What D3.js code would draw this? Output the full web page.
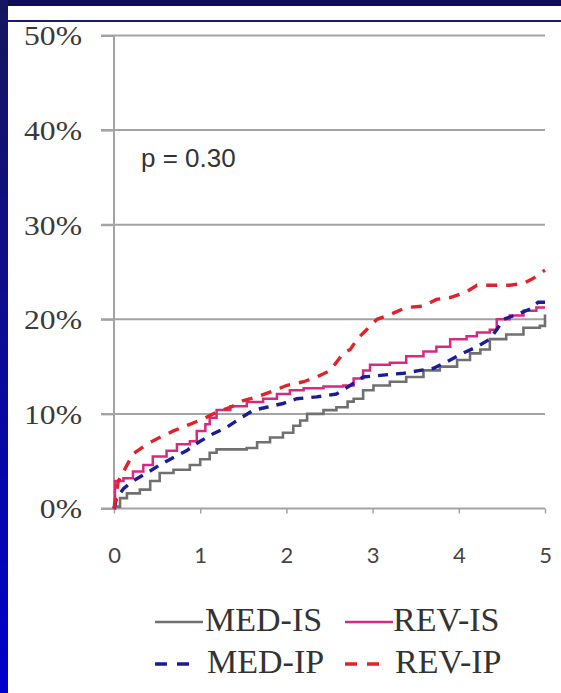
<!DOCTYPE html>
<html>
<head>
<meta charset="utf-8">
<script src="https://cdn.jsdelivr.net/npm/d3@7"></script>
<style>
  html, body { margin: 0; padding: 0; background: #ffffff; }
  svg { display: block; }
</style>
</head>
<body>
<svg id="chart" width="561" height="693"></svg>
<script>
// ---- data (time in years, cumulative incidence in %) ----
const xTicks = [0, 1, 2, 3, 4, 5];
const yTicks = [0, 10, 20, 30, 40, 50];
const pText = "p = 0.30";
const seriesNames = ["MED-IS", "REV-IS", "MED-IP", "REV-IP"];

const medIS = [[0,0],[0.01,0.2],[0.07,1.1],[0.15,1.6],[0.3,2.0],[0.42,2.9],[0.53,3.75],[0.69,4.1],[0.77,4.1],[0.88,4.6],[1.0,5.2],[1.11,5.9],[1.19,6.25],[1.35,6.25],[1.54,6.4],[1.66,7.0],[1.81,7.5],[1.96,8.0],[2.08,8.75],[2.16,9.3],[2.24,10.0],[2.43,10.4],[2.58,10.7],[2.71,11.3],[2.78,11.6],[2.89,12.5],[3.01,13.0],[3.2,13.4],[3.39,13.9],[3.59,14.6],[3.78,15.0],[3.98,15.7],[4.13,16.4],[4.25,16.8],[4.36,17.9],[4.55,18.4],[4.75,19.1],[4.94,19.3],[5.0,20.5]];

const revIS = [[0,0],[0.012,2.9],[0.11,3.2],[0.22,3.9],[0.34,4.6],[0.45,5.5],[0.61,6.1],[0.73,6.8],[0.88,7.1],[0.96,8.2],[1.06,8.9],[1.11,9.6],[1.19,10.4],[1.35,10.8],[1.54,11.25],[1.73,11.6],[1.89,12.1],[2.04,12.5],[2.2,12.7],[2.43,12.9],[2.66,13.0],[2.78,13.75],[2.89,14.6],[2.97,15.2],[3.2,15.4],[3.39,16.1],[3.59,16.6],[3.74,17.1],[3.9,17.9],[4.09,18.2],[4.21,18.6],[4.36,18.9],[4.44,20.0],[4.59,20.4],[4.75,20.9],[4.9,21.25],[5.0,21.25]];

const medIP = [[0,0],[0.03,1.1],[0.11,2.1],[0.22,2.9],[0.38,3.75],[0.53,4.6],[0.69,5.4],[0.84,6.1],[0.98,7.0],[1.15,7.9],[1.31,8.6],[1.46,9.5],[1.62,10.4],[1.77,10.7],[1.96,11.1],[2.12,11.6],[2.35,11.8],[2.58,12.1],[2.74,13.0],[2.89,13.9],[3.12,14.1],[3.36,14.3],[3.55,14.6],[3.7,14.8],[3.86,15.5],[4.01,16.25],[4.21,17.1],[4.36,17.9],[4.44,18.9],[4.52,20.0],[4.67,20.5],[4.83,21.1],[4.92,21.8],[5.0,21.8]];

const revIP = [[0,0],[0.05,2.9],[0.11,3.9],[0.22,5.75],[0.38,6.8],[0.53,7.5],[0.69,8.2],[0.88,8.9],[1.04,9.5],[1.19,10.2],[1.35,10.7],[1.5,11.4],[1.66,11.8],[1.81,12.3],[2.0,13.0],[2.2,13.4],[2.35,13.9],[2.51,14.6],[2.66,16.4],[2.74,16.8],[2.82,17.9],[2.93,18.9],[3.05,20.0],[3.2,20.5],[3.39,21.25],[3.59,21.4],[3.74,22.1],[3.9,22.3],[4.09,22.9],[4.21,23.6],[4.4,23.6],[4.59,23.6],[4.75,23.8],[4.86,24.3],[5.0,25.2]];

// ---- drawing ----
const svg = d3.select("#chart");

// slide frame
const defs = svg.append("defs");
const grad = defs.append("linearGradient").attr("id", "leftGrad")
  .attr("x1", 0).attr("y1", 0).attr("x2", 0).attr("y2", 1);
grad.append("stop").attr("offset", "0%").attr("stop-color", "#16165e");
grad.append("stop").attr("offset", "100%").attr("stop-color", "#0000cc");
svg.append("rect").attr("x", 0).attr("y", 0).attr("width", 561).attr("height", 6).attr("fill", "#0c0c58");
svg.append("rect").attr("x", 0).attr("y", 0).attr("width", 8).attr("height", 693).attr("fill", "url(#leftGrad)");
svg.append("rect").attr("x", 8).attr("y", 20).attr("width", 553).attr("height", 2).attr("fill", "#1a1a70");

const x = d3.scaleLinear().domain([0, 5]).range([114, 545]);
const y = d3.scaleLinear().domain([0, 50]).range([508.5, 35.5]);

const gridColor = "#a3a3a3";

// gridlines
svg.append("g").selectAll("line").data(yTicks.filter(d => d > 0)).join("line")
  .attr("x1", 101).attr("x2", x(5))
  .attr("y1", d => y(d)).attr("y2", d => y(d))
  .attr("stroke", gridColor).attr("stroke-width", 2);

// y axis
const yAxis = svg.append("g").attr("transform", `translate(${x(0)},0)`)
  .call(d3.axisLeft(y).tickValues(yTicks).tickSize(13).tickPadding(19).tickFormat(d => d + "%"));
yAxis.select(".domain").attr("stroke", gridColor).attr("stroke-width", 2).attr("d", `M0,${y(50)}V${y(0)}`);
yAxis.selectAll(".tick line").attr("stroke", gridColor).attr("stroke-width", 2);
yAxis.selectAll(".tick text")
  .attr("font-family", "'Liberation Serif', 'Times New Roman', serif")
  .attr("font-size", 27.5).attr("fill", "#3a3a3a").attr("dy", "0.34em")
  .each(function() {
    const len = this.getComputedTextLength();
    d3.select(this).attr("textLength", len * 1.15).attr("lengthAdjust", "spacingAndGlyphs");
  });

// x axis
const xAxis = svg.append("g").attr("transform", `translate(0,${y(0)})`)
  .call(d3.axisBottom(x).tickValues(xTicks).tickSize(5).tickFormat(d3.format("d")));
xAxis.select(".domain").attr("stroke", gridColor).attr("stroke-width", 2).attr("d", `M101,0H${x(5)}`);
xAxis.selectAll(".tick line").attr("stroke", gridColor).attr("stroke-width", 1.5);
xAxis.selectAll(".tick text")
  .attr("font-family", "Lato, 'Open Sans', sans-serif")
  .attr("font-size", 22).attr("fill", "#444").attr("y", 54).attr("dy", 0);

// series lines
const stepLine = d3.line().x(d => x(d[0])).y(d => y(d[1])).curve(d3.curveStepAfter);
const linLine = d3.line().x(d => x(d[0])).y(d => y(d[1]));

const styles = [
  { data: medIS, color: "#707070", width: 2.6, dash: null, gen: stepLine },
  { data: revIS, color: "#d8287f", width: 2.5, dash: null, gen: stepLine },
  { data: medIP, color: "#1c1c96", width: 3.4, dash: "10,8", gen: linLine },
  { data: revIP, color: "#e0222a", width: 3.4, dash: "11,9", gen: linLine }
];
styles.forEach(s => {
  svg.append("path").datum(s.data)
    .attr("d", s.gen).attr("fill", "none")
    .attr("stroke", s.color).attr("stroke-width", s.width)
    .attr("stroke-dasharray", s.dash);
});

// p-value
svg.append("text").attr("x", 141).attr("y", 167)
  .attr("font-family", "'Liberation Sans', Arial, sans-serif")
  .attr("font-size", 26).attr("fill", "#333").text(pText);

// legend
const legendPos = [
  { sx: 155, tx: 205, y: 622 },
  { sx: 345, tx: 393, y: 622 },
  { sx: 155, tx: 207, y: 664 },
  { sx: 345, tx: 395, y: 664 }
];
styles.forEach((s, i) => {
  const p = legendPos[i];
  svg.append("line")
    .attr("x1", p.sx).attr("x2", p.sx + (s.dash ? 36 : 48))
    .attr("y1", p.y).attr("y2", p.y)
    .attr("stroke", s.color).attr("stroke-width", s.dash ? 3.5 : 2.6)
    .attr("stroke-dasharray", s.dash ? "12,10" : null);
  svg.append("text").attr("x", p.tx).attr("y", p.y + 9)
    .attr("font-family", "'Liberation Serif', 'Times New Roman', serif")
    .attr("font-size", 34).attr("fill", "#333").text(seriesNames[i]);
});
</script>
</body>
</html>
